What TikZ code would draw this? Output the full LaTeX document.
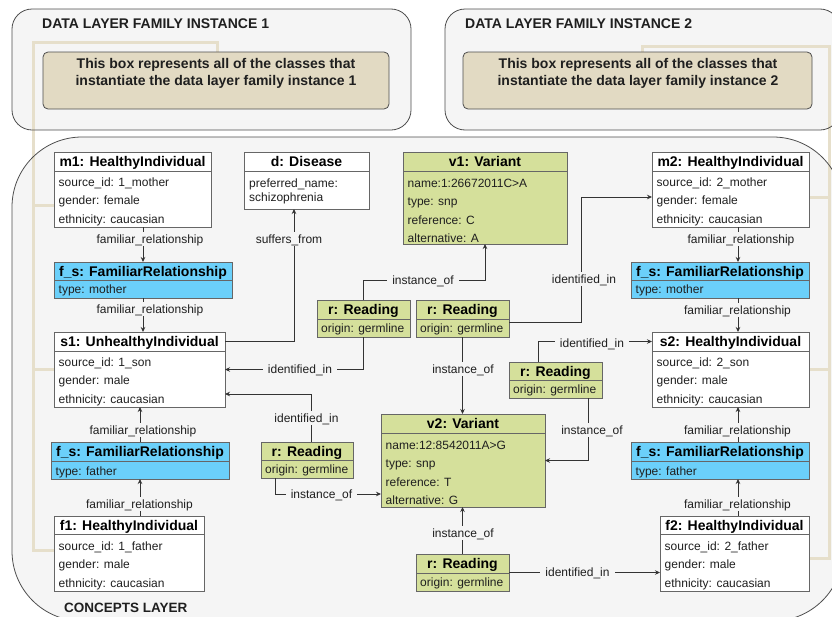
\documentclass[tikz,border=0pt]{standalone}
\usepackage{fontspec}
\setmainfont{Liberation Sans}
\usetikzlibrary{arrows.meta,calc}

\definecolor{bggray}{HTML}{F5F5F5}
\definecolor{frame}{HTML}{4D4D4D}
\definecolor{tanfill}{HTML}{E2DAC3}
\definecolor{tanline}{HTML}{E6DFCB}
\definecolor{relblue}{HTML}{6BD0FA}
\definecolor{vargreen}{HTML}{D5E09B}
\definecolor{boxedge}{HTML}{666666}
\definecolor{wire}{HTML}{333333}

\pgfdeclarelayer{back}
\pgfsetlayers{back,main}

\tikzset{
  box/.style={draw=boxedge, line width=0.9pt, inner sep=0pt, outer sep=0pt, anchor=north west},
  whitebox/.style={box, fill=white},
  bluebox/.style={box, fill=relblue},
  greenbox/.style={box, fill=vargreen},
  sepline/.style={draw=boxedge, line width=0.9pt},
  ttl/.style={font=\bfseries\fontsize{14}{16}\selectfont, text height=10pt, text depth=0pt, inner sep=0pt},
  rowtxt/.style={anchor=west, font=\fontsize{12}{14}\selectfont, text height=8.6pt, text depth=0pt, inner sep=0pt, text=black!88},
  lbl/.style={fill=bggray, font=\fontsize{12}{14}\selectfont, text height=8.6pt, text depth=0pt, inner xsep=5pt, inner ysep=3pt, text=black!88},
  link/.style={draw=wire, line width=0.8pt, -{Stealth[length=5pt,width=4.5pt]}},
  tanrule/.style={draw=tanline, line width=3pt},
  containeredge/.style={draw=frame, line width=0.8pt},
  tanbox/.style={draw=frame, fill=tanfill, rounded corners=5pt, line width=0.8pt, inner sep=0pt, outer sep=0pt},
  tantext/.style={align=center, font=\bfseries\fontsize{14}{17}\selectfont, inner sep=0pt, text=black!88},
  hdr/.style={anchor=west, font=\bfseries\fontsize{14}{16}\selectfont, text height=10pt, text depth=0pt, inner sep=0pt, text=black!88},
}

% class box: name, style, x1, y1, x2, y2, separator y, title
\newcommand\clsbox[8]{%
  \node[#2, minimum width={#5-#3}, minimum height={#6-#4}] (#1) at (#3,#4) {};
  \draw[sepline] (#3,#7) -- (#5,#7);
  \node[ttl] (#1-t) at ({(#3+#5)/2},{(#4+#7)/2}) {#8};
}
% attribute rows: name prefix, x, first y, step, list
\newcommand\rowsat[5]{%
  \foreach \t [count=\i from 0] in {#5}
    \node[rowtxt] (#1-r\i) at (#2,{#3+\i*#4}) {\t};
}

\begin{document}
\begin{tikzpicture}[x=1pt,y=-1pt]
\useasboundingbox (0,0) rectangle (832,616);

% layer headings
\node[hdr] (hdr1) at (42,23.5) {DATA LAYER FAMILY INSTANCE 1};
\node[hdr] (hdr2) at (465,23.5) {DATA LAYER FAMILY INSTANCE 2};
\node[hdr, font=\bfseries\fontsize{13.5}{16}\selectfont] (hdr3) at (64,607.5) {CONCEPTS LAYER};

% data layer boxes
\node[tanbox, minimum width=346, minimum height=57] (dl1) at (216,80.5) {};
\node[tantext] (dl1-txt) at (216,73.5) {This box represents all of the classes that\\instantiate the data layer family instance 1};
\node[tanbox, minimum width=349, minimum height=57] (dl2) at (637.5,80.5) {};
\node[tantext] (dl2-txt) at (638,73.5) {This box represents all of the classes that\\instantiate the data layer family instance 2};

% spines of the data layer links
\coordinate (spineL) at (33,0);
\coordinate (spineR) at (829,0);
\coordinate (relx) at (738,0);

% class boxes
\clsbox{m1}{whitebox}{54}{152}{211}{227}{171}{m1: HealthyIndividual}
\rowsat{m1}{58.5}{182}{18.5}{source\_id: 1\_mother, gender: female, ethnicity: caucasian}
\clsbox{fs1}{bluebox}{54}{262}{232}{298}{280}{f\_s: FamiliarRelationship}
\rowsat{fs1}{58.5}{289.5}{18.5}{type: mother}
\clsbox{s1}{whitebox}{54}{332}{225}{407}{351}{s1: UnhealthyIndividual}
\rowsat{s1}{58.5}{362}{18.5}{source\_id: 1\_son, gender: male, ethnicity: caucasian}
\clsbox{fsf1}{bluebox}{51}{442}{229}{479}{461}{f\_s: FamiliarRelationship}
\rowsat{fsf1}{55.5}{471}{18.5}{type: father}
\clsbox{f1}{whitebox}{54}{516}{204}{591}{534}{f1: HealthyIndividual}
\rowsat{f1}{58.5}{546}{18.5}{source\_id: 1\_father, gender: male, ethnicity: caucasian}

\clsbox{d}{whitebox}{244}{152}{369}{209}{171}{d: Disease}
\rowsat{d}{249}{183}{14}{preferred\_name:, schizophrenia}

\clsbox{v1}{greenbox}{403}{152}{567}{244}{171}{v1: Variant}
\rowsat{v1}{407.5}{183}{18.4}{name:1:26672011C>A, type: snp, reference: C, alternative: A}
\clsbox{v2}{greenbox}{381}{414}{545}{507}{433}{v2: Variant}
\rowsat{v2}{385.5}{445}{18.5}{name:12:8542011A>G, type: snp, reference: T, alternative: G}

\clsbox{ra}{greenbox}{317}{300}{410}{337}{319}{r: Reading}
\rowsat{ra}{321}{328.5}{18.5}{origin: germline}
\clsbox{rb}{greenbox}{416}{300}{509}{337}{319}{r: Reading}
\rowsat{rb}{420}{328.5}{18.5}{origin: germline}
\clsbox{rc}{greenbox}{509}{362}{602}{398}{380}{r: Reading}
\rowsat{rc}{513}{389.5}{18.5}{origin: germline}
\clsbox{rd}{greenbox}{261}{442}{353}{478}{460}{r: Reading}
\rowsat{rd}{265}{469.5}{18.5}{origin: germline}
\clsbox{re}{greenbox}{416}{554}{509}{591}{573}{r: Reading}
\rowsat{re}{420}{582.5}{18.5}{origin: germline}

\clsbox{m2}{whitebox}{652}{152}{809}{227}{171}{m2: HealthyIndividual}
\rowsat{m2}{656.5}{182}{18.5}{source\_id: 2\_mother, gender: female, ethnicity: caucasian}
\clsbox{fs2}{bluebox}{631}{262}{809}{298}{280}{f\_s: FamiliarRelationship}
\rowsat{fs2}{635.5}{289.5}{18.5}{type: mother}
\clsbox{s2}{whitebox}{652}{332}{809}{407}{351}{s2: HealthyIndividual}
\rowsat{s2}{656.5}{362}{18.5}{source\_id: 2\_son, gender: male, ethnicity: caucasian}
\clsbox{fsf2}{bluebox}{631}{442}{809}{479}{461}{f\_s: FamiliarRelationship}
\rowsat{fsf2}{635.5}{471}{18.5}{type: father}
\clsbox{f2}{whitebox}{660}{516}{809}{591}{534}{f2: HealthyIndividual}
\rowsat{f2}{664.5}{546}{18.5}{source\_id: 2\_father, gender: male, ethnicity: caucasian}

% containers, data layer links and container outlines, behind everything
\begin{pgfonlayer}{back}
  \fill[bggray, rounded corners=20] (12,9) rectangle (411,130);
  \fill[bggray, rounded corners=20] (445,9) rectangle (840,130);
  \fill[bggray, rounded corners=70] (12,137) rectangle (843,621);

  \draw[tanrule] ([xshift=1]dl1.north) -- ++(0,-10) -| ([yshift=3.5]f1.west -| spineL) -- ([yshift=3.5]f1.west);
  \draw[tanrule] (spineL |- s1.west) -- (s1.west);
  \draw[tanrule] ([yshift=-15.5]m1.west -| spineL) -- ([yshift=-15.5]m1.west);

  \draw[tanrule] ([xshift=4.5]dl2.north) -- ++(0,-6) -| ([yshift=-4.5]f2.east -| spineR) -- ([yshift=-4.5]f2.east);
  \draw[tanrule] (spineR |- s2.east) -- (s2.east);
  \draw[tanrule] ([yshift=-7.5]m2.east -| spineR) -- ([yshift=-7.5]m2.east);

  \draw[containeredge, rounded corners=20] (12,9) rectangle (411,130);
  \draw[containeredge, rounded corners=20] (445,9) rectangle (840,130);
  \draw[containeredge, rounded corners=70] (12,137) rectangle (843,621);
\end{pgfonlayer}

% family relations, left
\draw[link] (fs1.north |- m1.south) -- (fs1.north);
\draw[link] (fs1.south) -- (fs1.south |- s1.north);
\draw[link] (fsf1.north) -- (fsf1.north |- s1.south);
\draw[link] (fsf1.south |- f1.north) -- (fsf1.south);
% family relations, right
\draw[link] (relx |- m2.south) -- (relx |- fs2.north);
\draw[link] (relx |- fs2.south) -- (relx |- s2.north);
\draw[link] (relx |- fsf2.north) -- (relx |- s2.south);
\draw[link] (relx |- f2.north) -- (relx |- fsf2.south);

% disease
\draw[link] (s1-t -| s1.east) -| ([xshift=-12.5]d.south);

% readings
\draw[link] (ra.north) -- ++(0,-20) -| (v1.south);
\draw[link] (ra.south) |- (s1.east);
\draw[link] ([yshift=-4]rb.east) -- ++(72,0) |- ([yshift=-7.5]m2.west);
\draw[link] (rb.south) -- (rb.south |- v2.north);
\draw[link] ([xshift=-17.5]rc.north) |- (s2-t -| s2.west);
\draw[link] ([xshift=32.5]rc.south) |- (v2.east);
\draw[link] ([xshift=4]rd.north) |- ([yshift=-24.5]s1.east);
\draw[link] ([xshift=-32]rd.south) |- ([yshift=-33.5]v2.west);
\draw[link] (re.north) -- (re.north |- v2.south);
\draw[link] (re.east) -- (re.east -| f2.west);

% connector labels
\node[lbl] (lfr1) at (150,239) {familiar\_relationship};
\node[lbl] (lfr2) at (150,309) {familiar\_relationship};
\node[lbl] (lfr3) at (143,430) {familiar\_relationship};
\node[lbl] (lfr4) at (139.5,504) {familiar\_relationship};
\node[lbl] (lfr5) at (741,239) {familiar\_relationship};
\node[lbl] (lfr6) at (737.5,310) {familiar\_relationship};
\node[lbl] (lfr7) at (737.5,430) {familiar\_relationship};
\node[lbl] (lfr8) at (737.5,504) {familiar\_relationship};
\node[lbl] (lsf) at (289,239) {suffers\_from};
\node[lbl] (lio1) at (423,280) {instance\_of};
\node[lbl] (lid1) at (300,369) {identified\_in};
\node[lbl] (lid2) at (584,279) {identified\_in};
\node[lbl] (lio2) at (463,369) {instance\_of};
\node[lbl] (lid3) at (592,343) {identified\_in};
\node[lbl] (lio3) at (592,430) {instance\_of};
\node[lbl] (lid4) at (306.5,418) {identified\_in};
\node[lbl] (lio4) at (321.5,494) {instance\_of};
\node[lbl] (lio5) at (463,533) {instance\_of};
\node[lbl] (lid5) at (577.5,572) {identified\_in};

\end{tikzpicture}
\end{document}
